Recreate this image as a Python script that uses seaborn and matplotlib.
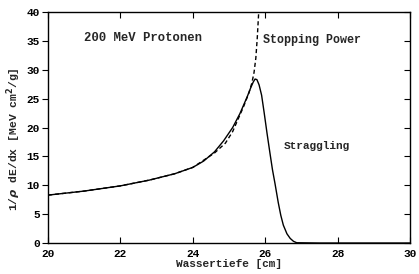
import matplotlib
matplotlib.use("Agg")
import matplotlib.pyplot as plt
import seaborn as sns
import pandas as pd

# Solid curve (with straggling)
depth_solid = [20.0, 21.0, 22.0, 22.8, 23.5, 24.0, 24.3, 24.6, 24.85, 25.1, 25.3, 25.5, 25.6, 25.67,
               25.72, 25.77, 25.83, 25.9, 25.97, 26.05, 26.13, 26.2, 26.27, 26.36, 26.43, 26.5,
               26.6, 26.69, 26.78, 26.87, 27.5, 28.5, 30.0]
dose_solid = [8.3, 9.0, 9.9, 10.9, 12.0, 13.1, 14.2, 15.8, 17.7, 20.0, 22.4, 25.3, 26.9, 27.9,
              28.4, 28.3, 27.4, 25.6, 22.6, 19.0, 15.6, 12.7, 10.3, 7.0, 4.8, 3.1,
              1.6, 0.8, 0.3, 0.05, 0.0, 0.0, 0.0]

# Dashed curve (stopping power, no straggling)
depth_dash = [20.0, 21.0, 22.0, 22.8, 23.5, 24.0, 24.6, 24.9, 25.1, 25.4, 25.55, 25.63, 25.69,
              25.74, 25.78, 25.82]
dose_dash = [8.3, 9.0, 9.9, 10.9, 12.0, 13.1, 15.6, 17.3, 19.3, 23.6, 26.0, 27.7, 29.5,
             32.0, 35.5, 40.0]

x_ticks = [20, 22, 24, 26, 28, 30]
y_ticks = [0, 5, 10, 15, 20, 25, 30, 35, 40]

sns.set_style("ticks")
plt.rcParams['font.family'] = ['Liberation Mono', 'DejaVu Sans']
plt.rcParams['font.weight'] = 'bold'

fig = plt.figure(figsize=(4.19, 2.74), dpi=100)
ax = fig.add_axes([0.1146, 0.113, 0.864, 0.843])

df_s = pd.DataFrame({"x": depth_solid, "y": dose_solid})
df_d = pd.DataFrame({"x": depth_dash, "y": dose_dash})
sns.lineplot(data=df_d, x="x", y="y", ax=ax, color="black", lw=1.0, linestyle=(0, (3, 2)), sort=False)
sns.lineplot(data=df_s, x="x", y="y", ax=ax, color="black", lw=1.0, sort=False)

ax.set_xlim(20, 30)
ax.set_ylim(0, 40)
ax.set_xticks(x_ticks)
ax.set_yticks(y_ticks)
ax.tick_params(axis="x", direction="in", top=True, labeltop=False,
               length=4, width=0.8, labelsize=8, pad=4, colors="black")
ax.tick_params(axis="y", which="major", left=True, right=True, labelright=False,
               length=4, width=0.8, labelsize=8, pad=2, colors="black")
# left ticks outward, right ticks inward
for t in ax.yaxis.get_major_ticks():
    t.tick1line.set_marker(matplotlib.lines.TICKLEFT)
    t.tick2line.set_marker(matplotlib.lines.TICKLEFT)
for lab in ax.get_xticklabels() + ax.get_yticklabels():
    lab.set_fontweight("bold")
for s in ax.spines.values():
    s.set_color("black")
    s.set_linewidth(1.0)

ax.set_xlabel("Wassertiefe [cm]", fontsize=8, fontweight="bold", labelpad=0)
ax.set_ylabel(r"1/$\rho$ dE/dx [MeV cm$^2$/g]", fontsize=8.2, fontweight="bold", labelpad=1)
ax.yaxis.set_label_coords(-0.07, 0.45)

ax.text(21.0, 35.5, "200 MeV Protonen", fontsize=8.8, fontweight="bold", va="center", ha="left")
ax.text(25.95, 35.1, "Stopping Power", fontsize=8.4, fontweight="bold", va="center", ha="left")
ax.text(26.5, 16.8, "Straggling", fontsize=8, fontweight="bold", va="center", ha="left")

fig.savefig("out.png", dpi=100)
